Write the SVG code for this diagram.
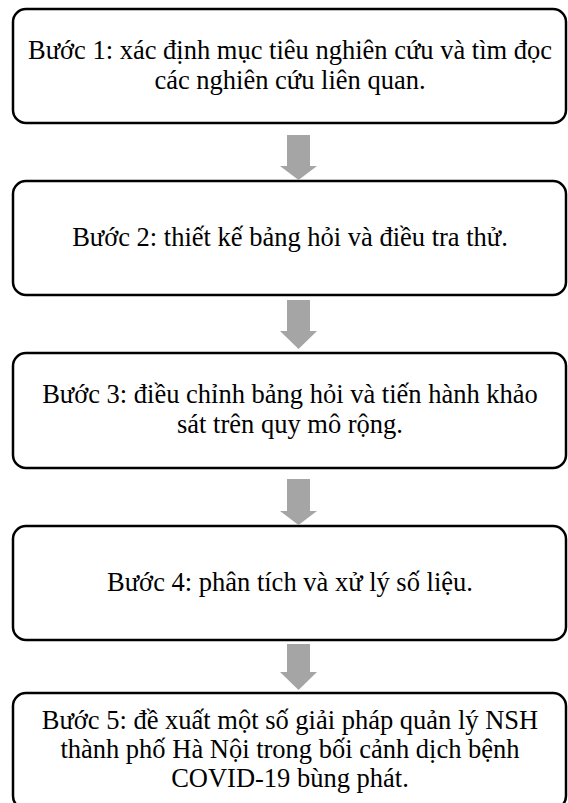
<svg xmlns="http://www.w3.org/2000/svg" width="568" height="803" viewBox="0 0 568 803">
<style>
.box{fill:#fff;stroke:#000;stroke-width:2.5}
.t{font-family:"Liberation Serif","Times New Roman",serif;font-size:26.5px;fill:#000;text-anchor:middle}
.arr{fill:#a5a5a5}
</style>
<rect width="568" height="803" fill="#fff"/>
<g id="step1"><rect class="box" x="13" y="9" width="553" height="114" rx="13"/>
<text class="t" x="290" y="59">Bước 1: xác định mục tiêu nghiên cứu và tìm đọc</text>
<text class="t" x="290" y="89">các nghiên cứu liên quan.</text></g>
<g id="step2"><rect class="box" x="13" y="181" width="553" height="114" rx="13"/>
<text class="t" x="290" y="246">Bước 2: thiết kế bảng hỏi và điều tra thử.</text></g>
<g id="step3"><rect class="box" x="13" y="353" width="553" height="115" rx="13"/>
<text class="t" x="290" y="403">Bước 3: điều chỉnh bảng hỏi và tiến hành khảo</text>
<text class="t" x="290" y="433">sát trên quy mô rộng.</text></g>
<g id="step4"><rect class="box" x="13" y="526" width="553" height="114" rx="13"/>
<text class="t" x="290" y="591">Bước 4: phân tích và xử lý số liệu.</text></g>
<g id="step5"><rect class="box" x="13" y="693" width="553" height="116" rx="13"/>
<text class="t" x="290" y="729">Bước 5: đề xuất một số giải pháp quản lý NSH</text>
<text class="t" x="290" y="758">thành phố Hà Nội trong bối cảnh dịch bệnh</text>
<text class="t" x="290" y="787">COVID-19 bùng phát.</text></g>
<g id="connectors">
<polygon class="arr" points="287,135 310,135 310,166 317,166 298.5,180 280,166 287,166"/>
<polygon class="arr" points="287,300 310,300 310,331 317,331 298.5,349 280,331 287,331"/>
<polygon class="arr" points="287,479 310,479 310,511 317,511 298.5,525 280,511 287,511"/>
<polygon class="arr" points="287,644 310,644 310,672 317,672 298.5,690 280,672 287,672"/>
</g>
</svg>
